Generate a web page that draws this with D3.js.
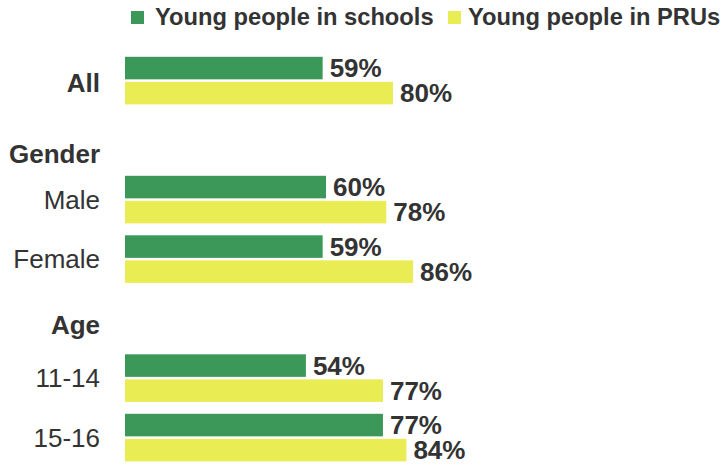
<!DOCTYPE html>
<html>
<head>
<meta charset="utf-8">
<script src="https://cdn.jsdelivr.net/npm/d3@7"></script>
<style>
  html, body { margin: 0; padding: 0; background: #fff; }
  svg { display: block; font-family: "Liberation Sans", Arial, sans-serif; }
</style>
</head>
<body>
<svg id="chart" width="726" height="466"></svg>
<script>
// Rows of the chart, top to bottom (section headers have no bars)
const rows = ["All", "Gender", "Male", "Female", "Age", "11-14", "15-16"];
const headerRows = ["Gender", "Age"];
const boldRows = ["All", "Gender", "Age"];

// Percentages per row (null for section headers)
const schoolsValues = [59, null, 60, 59, null, 54, 77];
const prusValues = [80, null, 78, 86, null, 77, 84];

const seriesNames = ["Young people in schools", "Young people in PRUs"];
const seriesKeys = ["schools", "prus"];
const seriesColors = ["#3b9858", "#e9ec53"];

const textColor = "#333333";

const svg = d3.select("#chart");

const x = d3.scaleLinear().domain([0, 100]).range([125, 460]);

const y = d3.scaleBand()
  .domain(rows)
  .range([56.8, 461.4])
  .paddingInner(0.2)
  .paddingOuter(0);

const ySeries = d3.scaleBand()
  .domain(seriesKeys)
  .range([0, y.bandwidth()])
  .paddingInner(0.1)
  .paddingOuter(0);

const color = d3.scaleOrdinal().domain(seriesKeys).range(seriesColors);

const table = rows.map((r, i) => ({
  row: r,
  schools: schoolsValues[i],
  prus: prusValues[i]
}));

// Header labels sit a little lower inside their band
const headerBaseline = { Gender: 46.5, Age: 39 };

// Row labels
svg.append("g")
  .selectAll("text")
  .data(table)
  .join("text")
  .attr("x", 100)
  .attr("y", d => headerRows.includes(d.row)
    ? y(d.row) + headerBaseline[d.row]
    : y(d.row) + y.bandwidth() / 2 + (d.row === "All" ? 11.5 : 9))
  .attr("text-anchor", "end")
  .attr("font-size", "26px")
  .attr("font-weight", d => boldRows.includes(d.row) ? "bold" : "normal")
  .attr("fill", textColor)
  .text(d => d.row);

// Bars and value labels
const groups = svg.append("g")
  .selectAll("g")
  .data(table.filter(d => d.schools != null))
  .join("g")
  .attr("transform", d => `translate(0,${y(d.row)})`);

const cells = groups.selectAll("g")
  .data(d => seriesKeys.map(k => ({ key: k, value: d[k] })))
  .join("g");

cells.append("rect")
  .attr("x", x(0))
  .attr("y", d => ySeries(d.key))
  .attr("width", d => x(d.value) - x(0))
  .attr("height", ySeries.bandwidth())
  .attr("fill", d => color(d.key));

cells.append("text")
  .attr("x", d => x(d.value) + 7)
  .attr("y", d => ySeries(d.key) + ySeries.bandwidth() / 2 + 9.3)
  .attr("font-size", "26px")
  .attr("font-weight", "bold")
  .attr("fill", textColor)
  .text(d => d.value + "%");

// Legend
const legendX = [131, 448];
const legend = svg.append("g")
  .selectAll("g")
  .data(seriesKeys)
  .join("g")
  .attr("transform", (d, i) => `translate(${legendX[i]},0)`);

legend.append("rect")
  .attr("x", 0)
  .attr("y", 11)
  .attr("width", 13)
  .attr("height", 13)
  .attr("fill", d => color(d));

legend.append("text")
  .attr("x", (d, i) => i === 0 ? 24 : 20)
  .attr("y", 25)
  .attr("font-size", "23.7px")
  .attr("font-weight", "bold")
  .attr("fill", textColor)
  .text((d, i) => seriesNames[i]);
</script>
</body>
</html>
